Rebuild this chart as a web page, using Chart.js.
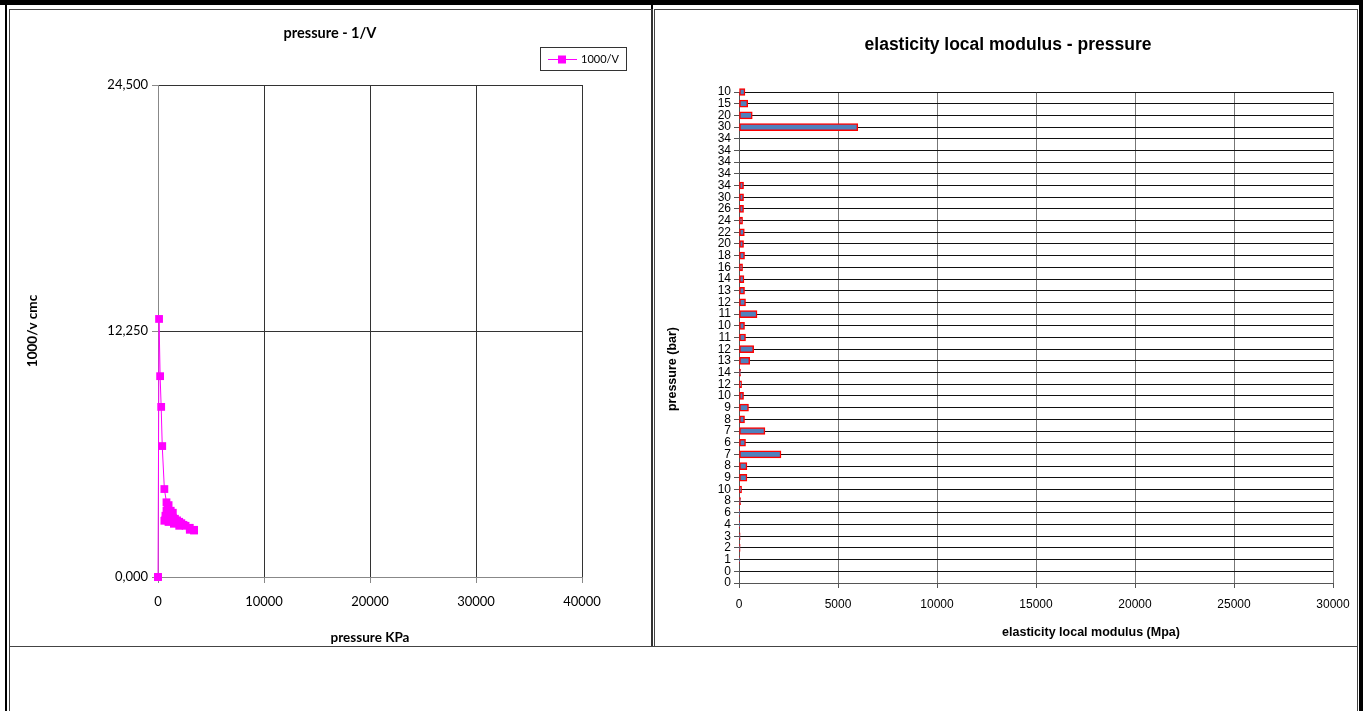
<!DOCTYPE html>
<html>
<head>
<meta charset="utf-8">
<script src="https://cdn.jsdelivr.net/npm/chart.js@4/dist/chart.umd.min.js"></script>
<style>
  body { margin: 0; background: #fff; width: 1363px; height: 711px; overflow: hidden; position: relative; }
  .line { position: absolute; background: #000; }
  .cell { position: absolute; border: 1px solid #444; box-sizing: border-box; }
  canvas { position: absolute; }
</style>
</head>
<body>
<div class="line" style="left:0;top:0;width:1363px;height:5px"></div>
<div class="line" style="left:5px;top:0;width:2px;height:711px"></div>
<div class="line" style="left:1359px;top:0;width:4px;height:711px"></div>
<div class="line" style="left:651px;top:0;width:2px;height:10px"></div>
<div class="cell" style="left:9px;top:9px;width:644px;height:638px;border-right:2px solid #333"></div>
<div class="cell" style="left:654px;top:9px;width:704px;height:638px"></div>
<div class="cell" style="left:9px;top:646px;width:1349px;height:80px"></div>

<canvas id="leftChart" width="638" height="635" style="left:11px;top:11px"></canvas>
<canvas id="rightChart" width="700" height="635" style="left:656px;top:11px"></canvas>

<script>
// pressure steps, in the order they were recorded
const pressureBar = ['0', '0', '1', '2', '3', '4', '6', '8', '10', '9', '8', '7', '6', '7', '8', '9', '10', '12', '14', '13', '12', '11', '10', '11', '12', '13', '14', '16', '18', '20', '22', '24', '26', '30', '34', '34', '34', '34', '34', '30', '20', '15', '10'];
const pressureKPa = [0, 0, 100, 200, 300, 400, 600, 800, 1000, 900, 800, 700, 600, 700, 800, 900, 1000, 1200, 1400, 1300, 1200, 1100, 1000, 1100, 1200, 1300, 1400, 1600, 1800, 2000, 2200, 2400, 2600, 3000, 3400, 3400, 3400, 3400, 3400, 3000, 2000, 1500, 1000];
// 1000/V values
const invVolume = [0, 0, 12.85, 10.0, 8.47, 6.52, 4.38, 3.72, 3.58, 3.45, 3.3, 3.05, 2.8, 2.85, 2.9, 3.0, 3.15, 3.3, 3.2, 3.05, 2.95, 2.85, 2.75, 2.8, 2.85, 2.9, 2.95, 2.9, 2.82, 2.75, 2.68, 2.6, 2.55, 2.45, 2.35, 2.34, 2.33, 2.33, 2.32, 2.35, 2.55, 2.65, 2.75];
// elasticity local modulus (Mpa)
const modulus = [0, 0, 20, 60, 60, 40, 40, 80, 130, 400, 400, 2120, 330, 1310, 280, 480, 230, 130, 80, 540, 740, 330, 280, 910, 330, 280, 250, 180, 280, 230, 270, 180, 230, 230, 230, 0, 0, 0, 0, 6000, 670, 440, 300];

const yTicksLeft = [0, 12.25, 24.5];
const xTicksLeft = [0, 10000, 20000, 30000, 40000];
const xTicksRight = [0, 5000, 10000, 15000, 20000, 25000, 30000];

const leftFont = 'Lato, "Open Sans", sans-serif';
const rightFont = '"Liberation Sans", Arial, sans-serif';

// titles placed where the original sheet has them (not always centred on the plot)
const placedTitles = {
    id: 'placedTitles',
    afterDraw(chart, args, opts) {
        const ctx = chart.ctx;
        ctx.save();
        ctx.fillStyle = '#000';
        ctx.textAlign = 'center';
        ctx.textBaseline = 'middle';
        (opts.items || []).forEach(t => {
            ctx.save();
            ctx.font = t.font;
            ctx.translate(t.x, t.y);
            if (t.rotate) ctx.rotate(-Math.PI / 2);
            ctx.fillText(t.text, 0, 0);
            ctx.restore();
        });
        ctx.restore();
    }
};

const legendBox = {
    id: 'legendBox',
    afterDraw(chart) {
        const ctx = chart.ctx;
        const x = chart.chartArea.right - 42;
        const y = 36;
        ctx.save();
        ctx.strokeStyle = '#333';
        ctx.lineWidth = 1;
        ctx.strokeRect(x + 0.5, y + 0.5, 86, 23);
        ctx.strokeStyle = '#ff00ff';
        ctx.beginPath();
        ctx.moveTo(x + 8, y + 12.5);
        ctx.lineTo(x + 37, y + 12.5);
        ctx.stroke();
        ctx.fillStyle = '#ff00ff';
        ctx.fillRect(x + 18, y + 8.5, 8, 8);
        ctx.fillStyle = '#000';
        ctx.font = '11px ' + leftFont;
        ctx.textBaseline = 'middle';
        ctx.fillText('1000/V', x + 41, y + 12.5);
        ctx.restore();
    }
};

new Chart(document.getElementById('leftChart'), {
    type: 'line',
    data: {
        datasets: [{
            label: '1000/V',
            data: pressureKPa.map((p, i) => ({ x: p, y: invVolume[i] })),
            borderColor: '#ff00ff',
            backgroundColor: '#ff00ff',
            borderWidth: 1,
            pointStyle: 'rect',
            pointRadius: 5.5,
            pointBorderWidth: 0,
            tension: 0,
            clip: false
        }]
    },
    options: {
        responsive: false,
        animation: false,
        layout: { padding: { left: 0, right: 67, top: 74, bottom: 0 } },
        plugins: {
            legend: { display: false },
            tooltip: { enabled: false },
            placedTitles: {
                items: [{ text: 'pressure - 1/V', x: 319, y: 22, font: 'bold 14.5px ' + leftFont }]
            }
        },
        scales: {
            x: {
                type: 'linear',
                min: 0,
                max: 40000,
                afterFit: s => { s.height = 69; },
                afterBuildTicks: s => { s.ticks = xTicksLeft.map(v => ({ value: v })); },
                ticks: {
                    color: '#000',
                    font: { family: leftFont, size: 13 },
                    padding: 11,
                    callback: v => String(v)
                },
                grid: { color: '#333', tickLength: 6, tickColor: '#888' },
                border: { color: '#888' },
                title: {
                    display: true,
                    text: 'pressure KPa',
                    color: '#000',
                    font: { family: leftFont, size: 13.5, weight: 'bold' },
                    padding: { top: 0, bottom: 0 }
                }
            },
            y: {
                min: 0,
                max: 24.5,
                afterFit: s => { s.width = 147; },
                afterBuildTicks: s => { s.ticks = yTicksLeft.map(v => ({ value: v })); },
                ticks: {
                    color: '#000',
                    font: { family: leftFont, size: 13 },
                    padding: 4,
                    callback: v => v.toFixed(3).replace('.', ',')
                },
                grid: { color: '#333', tickLength: 6, tickColor: '#888' },
                border: { color: '#888' },
                title: {
                    display: true,
                    text: '1000/v cmc',
                    color: '#000',
                    font: { family: leftFont, size: 13.5, weight: 'bold' },
                    padding: { top: 14, bottom: 0 }
                }
            }
        }
    },
    plugins: [legendBox, placedTitles]
});

new Chart(document.getElementById('rightChart'), {
    type: 'bar',
    data: {
        labels: pressureBar,
        datasets: [{
            label: 'elasticity local modulus',
            data: modulus,
            backgroundColor: '#4f81bd',
            borderColor: '#ff0000',
            borderWidth: 1.5,
            borderSkipped: false,
            barThickness: 7,
            clip: false
        }]
    },
    options: {
        indexAxis: 'y',
        responsive: false,
        animation: false,
        layout: { padding: { left: 0, right: 23, top: 81, bottom: 0 } },
        plugins: {
            legend: { display: false },
            tooltip: { enabled: false },
            placedTitles: {
                items: [
                    { text: 'elasticity local modulus - pressure', x: 352, y: 34, font: 'bold 17.5px ' + rightFont },
                    { text: 'elasticity local modulus (Mpa)', x: 435, y: 622, font: 'bold 12.5px ' + rightFont },
                    { text: 'pressure (bar)', x: 17, y: 358, font: 'bold 12.5px ' + rightFont, rotate: true }
                ]
            }
        },
        scales: {
            x: {
                min: 0,
                max: 30000,
                afterFit: s => { s.height = 63; s.paddingLeft = 0; s.paddingRight = 0; },
                afterBuildTicks: s => { s.ticks = xTicksRight.map(v => ({ value: v })); },
                ticks: {
                    color: '#000',
                    font: { family: rightFont, size: 12 },
                    padding: 9,
                    callback: v => String(v)
                },
                grid: { color: '#777', tickLength: 5, tickColor: '#555' },
                border: { color: '#555' }
            },
            y: {
                reverse: true,
                offset: false,
                afterFit: s => { s.width = 83; },
                ticks: {
                    color: '#000',
                    font: { family: rightFont, size: 12 },
                    padding: 3,
                    autoSkip: false
                },
                grid: { color: '#111', offset: false, tickLength: 5, tickColor: '#555' },
                border: { color: '#555' }
            }
        }
    },
    plugins: [placedTitles]
});
</script>
</body>
</html>
